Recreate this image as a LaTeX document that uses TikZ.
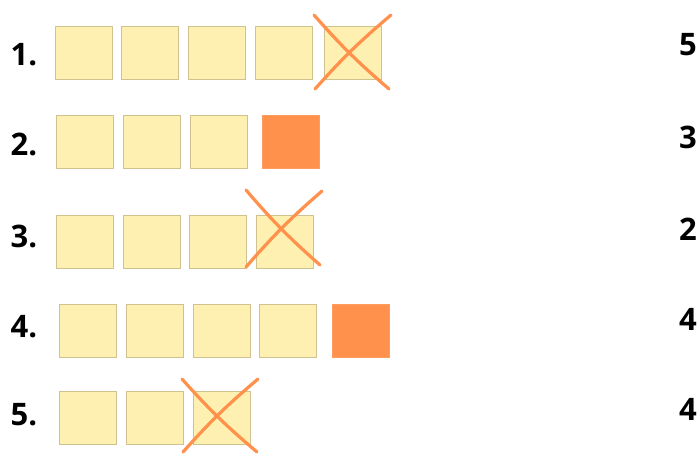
\documentclass[tikz,border=0pt]{standalone}
\usepackage{fontspec}
\setmainfont{Open Sans}
\usepackage{tikz}
\usetikzlibrary{calc}
\definecolor{cellfill}{HTML}{FEF0B0}
\definecolor{celledge}{HTML}{D0C190}
\definecolor{hot}{HTML}{FF914D}
\tikzset{
  cell/.style={draw=celledge, fill=cellfill, line width=0.7pt, minimum width=57pt, minimum height=53pt, inner sep=0pt},
  hotcell/.style={cell, draw=hot!90!white, fill=hot},
  rowlbl/.style={font=\bfseries\fontsize{31}{31}\selectfont, inner sep=0pt},
  strike/.style={draw=hot, line width=3.2pt, line cap=round}
}
\begin{document}
\begin{tikzpicture}[x=1pt, y=-1pt]
\useasboundingbox (0,0) rectangle (700,453);
% row 1
\node[rowlbl] (n1) at (24,55) {1.};
\node[cell] (r1a) at (83.5,53) {};
\node[cell] (r1b) at (150,53) {};
\node[cell] (r1c) at (216.5,53) {};
\node[cell] (r1d) at (283.5,53) {};
\node[cell] (r1e) at (352.5,53) {};
\draw[strike] ($(r1e.center)+(-38.5,-38)$) to[bend right=4] ($(r1e.center)+(36.5,36)$);
\draw[strike] ($(r1e.center)+(-37.5,36)$) to[bend left=4] ($(r1e.center)+(38.5,-38)$);
\node[rowlbl] (s1) at (688,45) {5};
% row 2
\node[rowlbl] (n2) at (24,144.5) {2.};
\node[cell] (r2a) at (85,142) {};
\node[cell] (r2b) at (151.5,142) {};
\node[cell] (r2c) at (218.5,142) {};
\node[hotcell] (r2d) at (291,142) {};
\node[rowlbl] (s2) at (688,137) {3};
% row 3
\node[rowlbl] (n3) at (24,236) {3.};
\node[cell] (r3a) at (84.5,241.5) {};
\node[cell] (r3b) at (151.5,241.5) {};
\node[cell] (r3c) at (218,241.5) {};
\node[cell] (r3d) at (285,241.5) {};
\draw[strike] ($(r3d.center)+(-39,-51.5)$) to[bend right=4] ($(r3d.center)+(35,23.5)$);
\draw[strike] ($(r3d.center)+(-39,25.5)$) to[bend left=4] ($(r3d.center)+(37,-50.5)$);
\node[rowlbl] (s3) at (688,229) {2};
% row 4
\node[rowlbl] (n4) at (24,326.5) {4.};
\node[cell] (r4a) at (88,330.5) {};
\node[cell] (r4b) at (154.5,330.5) {};
\node[cell] (r4c) at (221.5,330.5) {};
\node[cell] (r4d) at (288,330.5) {};
\node[hotcell] (r4e) at (360.5,330.5) {};
\node[rowlbl] (s4) at (688,319) {4};
% row 5
\node[rowlbl] (n5) at (24,415) {5.};
\node[cell] (r5a) at (88,417.5) {};
\node[cell] (r5b) at (154.5,417.5) {};
\node[cell] (r5c) at (221.5,417.5) {};
\draw[strike] ($(r5c.center)+(-39.5,-38.5)$) to[bend right=4] ($(r5c.center)+(35.5,34.5)$);
\draw[strike] ($(r5c.center)+(-38.5,34.5)$) to[bend left=4] ($(r5c.center)+(36.5,-38.5)$);
\node[rowlbl] (s5) at (688,409) {4};
\end{tikzpicture}
\end{document}
